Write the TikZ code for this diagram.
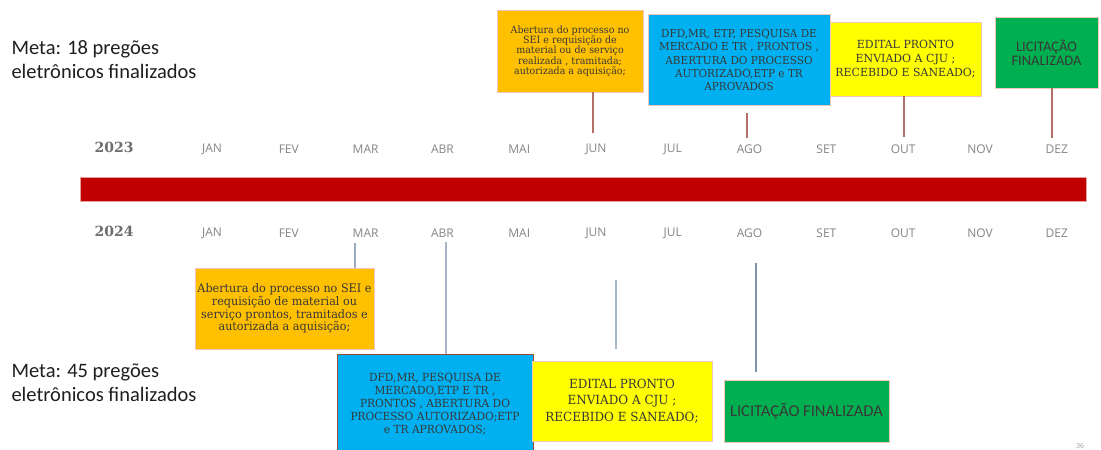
\documentclass[tikz,border=0pt]{standalone}
\usepackage{fontspec}
\setmainfont{DejaVu Serif}
\newfontfamily\slab{DejaVu Serif}[FakeStretch=0.95]
\newfontfamily\slabwide{DejaVu Serif}[FakeStretch=0.98]
\newfontfamily\metafont{Carlito}
\newfontfamily\monthfont{Open Sans}
\newfontfamily\yearfont{DejaVu Serif}
\definecolor{barred}{HTML}{C00000}
\definecolor{baredge}{HTML}{E8A0A0}
\definecolor{boxorange}{HTML}{FFC000}
\definecolor{boxblue}{HTML}{00B0F0}
\definecolor{boxyellow}{HTML}{FFFF00}
\definecolor{boxgreen}{HTML}{00B050}
\definecolor{boxedge}{HTML}{F2C4BC}
\definecolor{darkedge}{HTML}{9A4A3A}
\definecolor{boxtext}{HTML}{383838}
\definecolor{monthgray}{HTML}{858585}
\definecolor{yeargray}{HTML}{6E6E6E}
\definecolor{toptick}{HTML}{B47068}
\definecolor{lowtick}{HTML}{A8B6CA}
\definecolor{lowtickdark}{HTML}{8193AE}
\begin{document}
\begin{tikzpicture}[x=1pt,y=-1pt,
  box/.style={draw=boxedge, line width=0.7pt, align=center, inner sep=0pt, text=boxtext},
  month/.style={font=\monthfont\fontsize{12}{14}\selectfont, text=monthgray},
  year/.style={font=\yearfont\bfseries\fontsize{14}{16}\selectfont, text=yeargray},
  goal/.style={font=\metafont\fontsize{20.5}{24}\selectfont, text=black!88, align=left, anchor=west},
  topline/.style={draw=toptick, line width=1.3pt},
  lowline/.style={draw=lowtick, line width=1.5pt}]
\useasboundingbox (0,0) rectangle (1101,450);
\clip (0,0) rectangle (1101,450);
\fill[white] (0,0) rectangle (1101,450);

% timeline bar
\node[fill=barred, draw=baredge, line width=0.8pt, minimum width=1006pt, minimum height=24pt,
  inner sep=0pt, anchor=north west] (bar) at (80,177) {};

% year rows
\node[year] (y23) at (114,147) {2023};
\node[year] (y24) at (114,231) {2024};
\foreach \m [count=\i from 0] in {JAN,FEV,MAR,ABR,MAI,JUN,JUL,AGO,SET,OUT,NOV,DEZ}{
  \node[month] (a\i) at ({212+76.8*\i},149) {\m};
  \node[month] (b\i) at ({212+76.8*\i},233) {\m};
}

% goals
\node[goal] (goal23) at (8,60) {Meta: 18 pregões\\eletrônicos finalizados};
\node[goal] (goal45) at (8,383) {Meta: 45 pregões\\eletrônicos finalizados};

% 2023 milestones
\node[box, fill=boxorange, minimum width=146pt, minimum height=82pt,
  font=\slab\fontsize{10}{10.3}\selectfont] (o23) at (570,51)
  {Abertura do processo  no\\SEI e requisição de\\material ou de serviço\\realizada , tramitada;\\autorizada a aquisição;};
\node[box, fill=boxblue, minimum width=182pt, minimum height=91pt,
  font=\slab\fontsize{11}{13.3}\selectfont] (c23) at (739,60)
  {DFD,MR, ETP, PESQUISA DE\\MERCADO E TR , PRONTOS ,\\ABERTURA DO PROCESSO\\AUTORIZADO,ETP e TR\\APROVADOS};
\node[box, fill=boxyellow, minimum width=151pt, minimum height=74pt,
  font=\slabwide\fontsize{11.2}{14.2}\selectfont] (e23) at (905.5,59)
  {EDITAL PRONTO\\ENVIADO A CJU ;\\RECEBIDO E SANEADO;};
\node[box, fill=boxgreen, minimum width=103pt, minimum height=71pt,
  font=\metafont\fontsize{14.5}{14}\selectfont] (l23) at (1046.5,52.5)
  {LICITAÇÃO\\FINALIZADA};

\coordinate (t1) at (593,133);
\coordinate (t2a) at (747,113);
\coordinate (t2) at (747,138);
\coordinate (t3) at (904,137);
\coordinate (t4) at (1052,138);
\draw[topline] (o23.south -| t1) -- (t1);
\draw[topline] (t2a) -- (t2);
\draw[topline] (e23.south -| t3) -- (t3);
\draw[topline] (l23.south -| t4) -- (t4);

% 2024 milestones
\node[box, fill=boxorange, minimum width=179pt, minimum height=81pt,
  font=\slab\fontsize{11.8}{12.8}\selectfont] (o24) at (284.5,308.5)
  {Abertura do processo no SEI e\\requisição de material ou\\serviço prontos, tramitados e\\autorizada a aquisição;};
\node[box, fill=boxblue, draw=darkedge, minimum width=196pt, minimum height=100pt,
  font=\slab\fontsize{11.2}{13}\selectfont] (c24) at (435,404)
  {DFD,MR, PESQUISA DE\\MERCADO,ETP E TR ,\\PRONTOS , ABERTURA DO\\PROCESSO AUTORIZADO;ETP\\e TR APROVADOS;};
\node[box, fill=boxyellow, minimum width=180pt, minimum height=80pt,
  font=\slab\fontsize{12.6}{16.6}\selectfont] (e24) at (622,401)
  {EDITAL PRONTO\\ENVIADO A CJU ;\\RECEBIDO E SANEADO;};
\node[box, fill=boxgreen, minimum width=165pt, minimum height=62pt,
  font=\metafont\fontsize{16.5}{18}\selectfont] (l24) at (806.5,411)
  {LICITAÇÃO FINALIZADA};

\coordinate (u1) at (355,243);
\coordinate (u2) at (446,242);
\coordinate (u3a) at (616,280);
\coordinate (u3) at (616,349);
\coordinate (u4a) at (756,263);
\coordinate (u4) at (756,372);
\draw[lowline, draw=lowtickdark!80, line width=1.2pt] (u1) -- (o24.north -| u1);
\draw[lowline, line width=2pt] (u2) -- (c24.north -| u2);
\draw[lowline] (u3a) -- (u3);
\draw[lowline, draw=lowtickdark] (u4a) -- (u4);

% slide number
\node[font=\monthfont\fontsize{7}{8}\selectfont, text=black!40] (page) at (1080,446) {36};
\end{tikzpicture}
\end{document}
